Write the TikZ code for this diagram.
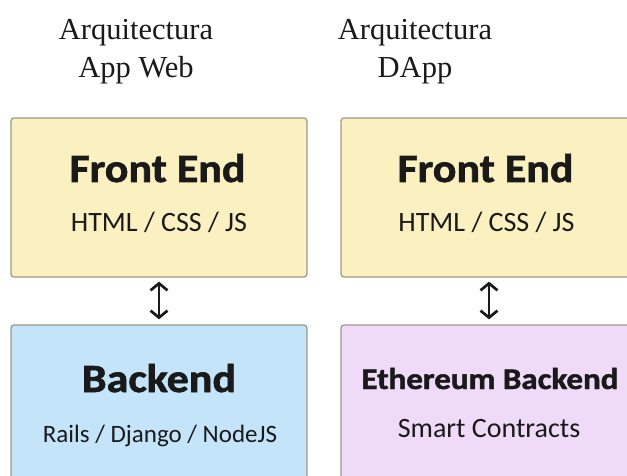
\documentclass[tikz,border=0pt]{standalone}
\usepackage{fontspec}
\setmainfont{Liberation Serif}
\newfontfamily\sansf{Carlito}
\newfontfamily\heavyf{Carlito}[BoldFeatures={FakeBold=1.6,FakeStretch=1.1}]
\usetikzlibrary{arrows.meta}
\definecolor{feyellow}{HTML}{FBF1C0}
\definecolor{beblue}{HTML}{C4E4FA}
\definecolor{bepurple}{HTML}{EFDAF8}
\definecolor{boxline}{HTML}{9C9A88}
\definecolor{txt}{HTML}{1A1A1A}
\tikzset{
  box/.style={draw=boxline, line width=1.3pt, rounded corners=3pt, minimum width=296pt, minimum height=159pt, inner sep=0pt},
  ttl/.style={anchor=base, text=txt, inner sep=0pt, font=\fontsize{30.5}{34}\selectfont},
  big/.style={anchor=base, text=txt, inner sep=0pt, font=\heavyf\bfseries\fontsize{40}{44}\selectfont},
  mid/.style={anchor=base, text=txt, inner sep=0pt, font=\heavyf\bfseries\fontsize{30}{34}\selectfont},
  sub/.style={anchor=base, text=txt, inner sep=0pt, font=\sansf\fontsize{28}{30}\selectfont},
  link/.style={{Straight Barb[length=7pt,width=17pt]}-{Straight Barb[length=7pt,width=17pt]}, line width=2.7pt, txt, shorten <=4pt, shorten >=5pt}
}
\begin{document}
\begin{tikzpicture}[x=1pt,y=-1pt]
\useasboundingbox (0,0) rectangle (627,476);
\clip (0,0) rectangle (627,476);
\fill[white] (0,0) rectangle (627,476);
% titles
\node[ttl] (t1a) at (136,40) {Arquitectura};
\node[ttl] (t1b) at (136,78) {App Web};
\node[ttl] (t2a) at (415,40) {Arquitectura};
\node[ttl] (t2b) at (415,78) {DApp};
% boxes
\node[box, fill=feyellow] (fe1) at (159,197.5) {};
\node[box, fill=feyellow] (fe2) at (489,197.5) {};
\node[box, fill=beblue] (be1) at (159,404.5) {};
\node[box, fill=bepurple] (be2) at (489,404.5) {};
% texts
\node[big] (fe1t) at (157.5,182) {Front End};
\node[sub] (fe1s) at (159,232) {HTML / CSS / JS};
\node[big] (fe2t) at (485.5,182) {Front End};
\node[sub] (fe2s) at (486.5,232) {HTML / CSS / JS};
\node[big] (be1t) at (159,392) {Backend};
\node[sub, font=\sansf\fontsize{25}{30}\selectfont] (be1s) at (160,442) {Rails / Django / NodeJS};
\node[mid] (be2t) at (490,389) {Ethereum Backend};
\node[sub] (be2s) at (489,437) {Smart Contracts};
% arrows
\draw[link] (fe1.south) -- (be1.north);
\draw[link] (fe2.south) -- (be2.north);
\end{tikzpicture}
\end{document}
